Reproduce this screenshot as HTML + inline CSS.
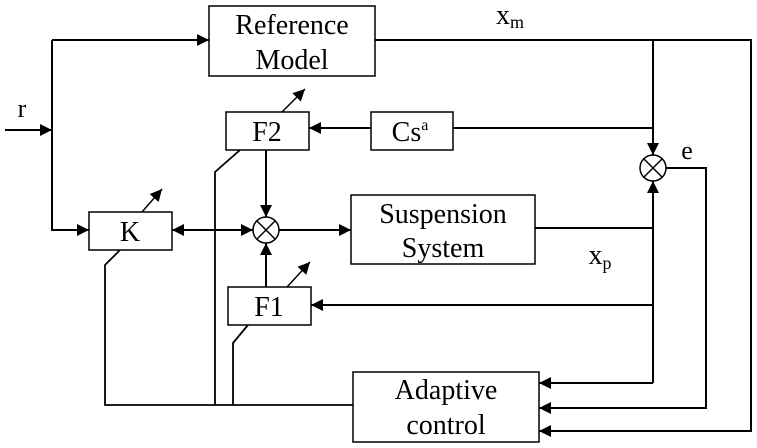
<!DOCTYPE html>
<html><head><style>body{margin:0;background:#fff}svg{display:block}</style></head><body>
<svg width="757" height="448" viewBox="0 0 757 448" xmlns="http://www.w3.org/2000/svg" font-family="Liberation Serif, serif" fill="none" stroke="#000" stroke-width="2">
<defs>
<marker id="b" viewBox="0 0 10 10" refX="10" refY="5" markerWidth="12" markerHeight="12" orient="auto-start-reverse" markerUnits="userSpaceOnUse"><path d="M0,0L10,5L0,10z" fill="#000" stroke="none"/></marker></defs>
<g stroke-width="1.5">
<rect x="209" y="6" width="166" height="70"/>
<rect x="89" y="212" width="83" height="38"/>
<rect x="226" y="112" width="83" height="38"/>
<rect x="371" y="112" width="82" height="38"/>
<rect x="351" y="195" width="184" height="69"/>
<rect x="228" y="287" width="83" height="38"/>
<rect x="353" y="372" width="186" height="70"/>
<circle cx="266" cy="230" r="13"/><path d="M257,221L275,239M275,221L257,239"/>
<circle cx="653" cy="168" r="13"/><path d="M644,159L662,177M662,159L644,177"/>
</g>
<path d="M653,128H453"/>
<path d="M535,228H653"/>
<g marker-end="url(#b)">
<path d="M5,130H52"/><path d="M52,40V230H89"/><path d="M52,40H209"/>
<path d="M375,40H751V431H539"/><path d="M653,40V155"/>
<path d="M371,128H309"/>
<path d="M666,168H706V408H539"/>
<path d="M653,383H539" /><path d="M653,383V181"/>
<path d="M653,305H311"/>
<path d="M266,150V217"/><path d="M266,287V243"/>
<path d="M279,230H351"/>
<path d="M172,230H253" marker-start="url(#b)"/>
</g>
<g stroke-width="1.5" marker-end="url(#b)">
<path d="M142,212L162,189"/><path d="M282,112L305,89"/><path d="M287,287L310,262"/>
</g>
<path d="M353,405H105V265L120,250M215,405V172L240,150M233,405V343L248,325" stroke-width="1.8"/>
<g fill="#000" stroke="none" font-size="28" text-anchor="middle">
<text x="292" y="34">Reference</text><text x="292" y="69">Model</text>
<text x="130" y="241">K</text><text x="267" y="141">F2</text>
<text x="410" y="141">Cs<tspan font-size="16" dy="-11">a</tspan></text>
<text x="443" y="223">Suspension</text><text x="443" y="257">System</text>
<text x="269" y="316">F1</text>
<text x="446" y="399">Adaptive</text><text x="446" y="434">control</text>
<text x="22" y="117" font-size="26">r</text><text x="687" y="159" font-size="26">e</text>
<text x="510" y="24">x<tspan font-size="18" dy="4">m</tspan></text>
<text x="600" y="264">x<tspan font-size="18" dy="5">p</tspan></text>
</g>
</svg>
</body></html>
